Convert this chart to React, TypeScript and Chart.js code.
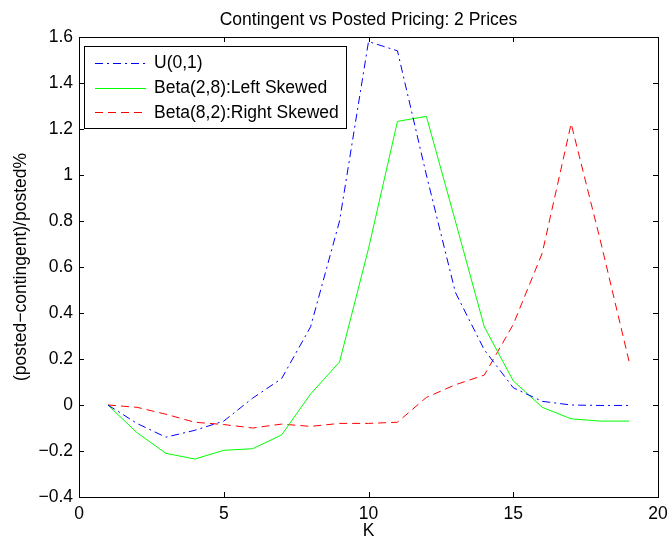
import React, { useEffect, useRef } from "react";
import { Chart, registerables } from "chart.js";

Chart.register(...registerables);

const TITLE = "Contingent vs Posted Pricing: 2 Prices";
const X_LABEL = "K";
const Y_LABEL = "(posted\u2212contingent)/posted%";

const K = [1, 2, 3, 4, 5, 6, 7, 8, 9, 10, 11, 12, 13, 14, 15, 16, 17, 18, 19];
const uniform = [0, -0.08, -0.14, -0.11, -0.07, 0.03, 0.115, 0.34, 0.8, 1.58, 1.54, 1.0, 0.49, 0.24, 0.075, 0.016, 0.0, -0.002, -0.002];
const betaLeft = [0, -0.12, -0.21, -0.235, -0.197, -0.19, -0.13, 0.048, 0.187, 0.68, 1.233, 1.255, 0.8, 0.34, 0.105, -0.01, -0.06, -0.07, -0.07];
const betaRight = [0, -0.01, -0.04, -0.075, -0.085, -0.1, -0.083, -0.093, -0.08, -0.08, -0.075, 0.033, 0.088, 0.13, 0.35, 0.66, 1.223, 0.72, 0.19];

const seriesLabels = ["U(0,1)", "Beta(2,8):Left Skewed", "Beta(8,2):Right Skewed"];

const FONT = "'Liberation Sans', Arial, Helvetica, sans-serif";
const FS = 17.5;

const fmt = (v: number) => {
  const s = String(Number(v.toFixed(2)));
  return s.replace("-", "\u2212");
};

const framePlugin = {
  id: "matlabFrame",
  afterDatasetsDraw(chart: any) {
    const { ctx, chartArea } = chart;
    const { left, right, top, bottom } = chartArea;
    const xs = chart.scales.x;
    const ys = chart.scales.y;
    const tl = 5;
    ctx.save();
    ctx.strokeStyle = "#000";
    ctx.lineWidth = 1;
    ctx.setLineDash([]);
    ctx.beginPath();
    xs.ticks.forEach((t: any) => {
      const p = Math.round(xs.getPixelForValue(t.value)) + 0.5;
      ctx.moveTo(p, bottom);
      ctx.lineTo(p, bottom - tl);
      ctx.moveTo(p, top);
      ctx.lineTo(p, top + tl);
    });
    ys.ticks.forEach((t: any) => {
      const p = Math.round(ys.getPixelForValue(t.value)) + 0.5;
      ctx.moveTo(left, p);
      ctx.lineTo(left + tl, p);
      ctx.moveTo(right, p);
      ctx.lineTo(right - tl, p);
    });
    ctx.stroke();
    ctx.strokeRect(Math.round(left) + 0.5, Math.round(top) + 0.5, Math.round(right - left), Math.round(bottom - top));

    // legend box
    const bx = left + 5;
    const by = top + 9;
    const bw = 262;
    const bh = 82;
    ctx.fillStyle = "#fff";
    ctx.fillRect(bx, by, bw, bh);
    ctx.strokeStyle = "#000";
    ctx.lineWidth = 1;
    ctx.strokeRect(Math.round(bx) + 0.5, Math.round(by) + 0.5, bw, bh);
    const rowY = [16.5, 41.5, 66];
    chart.data.datasets.forEach((ds: any, i: number) => {
      const y = by + rowY[i];
      ctx.save();
      ctx.strokeStyle = ds.borderColor;
      ctx.lineWidth = ds.borderWidth;
      ctx.setLineDash(ds.borderDash || []);
      ctx.beginPath();
      ctx.moveTo(bx + 11, Math.round(y) + 0.5);
      ctx.lineTo(bx + 62, Math.round(y) + 0.5);
      ctx.stroke();
      ctx.restore();
      ctx.fillStyle = "#000";
      ctx.font = `${FS}px ${FONT}`;
      ctx.textBaseline = "middle";
      ctx.textAlign = "left";
      ctx.fillText(ds.label, bx + 70, y + 1);
    });
    ctx.restore();
  },
};

export default function App() {
  const ref = useRef<HTMLCanvasElement | null>(null);

  useEffect(() => {
    document.body.style.margin = "0";
    const canvas = ref.current;
    if (!canvas) return;
    const mk = (arr: number[]) => K.map((k, i) => ({ x: k, y: arr[i] }));
    const chart = new Chart(canvas, {
      type: "line",
      data: {
        datasets: [
          {
            label: seriesLabels[0],
            data: mk(uniform),
            borderColor: "#0000ff",
            borderWidth: 1,
            borderDash: [8, 4, 2, 4],
            pointRadius: 0,
            fill: false,
            tension: 0,
          },
          {
            label: seriesLabels[1],
            data: mk(betaLeft),
            borderColor: "#00ff00",
            borderWidth: 1,
            pointRadius: 0,
            fill: false,
            tension: 0,
          },
          {
            label: seriesLabels[2],
            data: mk(betaRight),
            borderColor: "#ff0000",
            borderWidth: 1,
            borderDash: [8, 5],
            pointRadius: 0,
            fill: false,
            tension: 0,
          },
        ],
      },
      options: {
        responsive: false,
        animation: false,
        devicePixelRatio: 1,
        layout: { padding: { left: 0, right: 12, top: 0, bottom: 0 } },
        plugins: {
          legend: { display: false },
          tooltip: { enabled: false },
          title: {
            display: true,
            text: TITLE,
            fullSize: false,
            color: "#000",
            font: { family: FONT, size: FS, weight: "normal", lineHeight: 1.2 },
            padding: { top: 10, bottom: 6 },
          },
        },
        scales: {
          x: {
            type: "linear",
            min: 0,
            max: 20,
            ticks: {
              stepSize: 5,
              color: "#000",
              font: { family: FONT, size: FS },
              padding: 7,
              maxRotation: 0,
              callback: (v: any) => fmt(Number(v)),
            },
            grid: { display: false, drawTicks: false },
            border: { display: false },
            title: {
              display: true,
              text: X_LABEL,
              color: "#000",
              font: { family: FONT, size: FS, lineHeight: 1.2 },
              padding: { top: 0, bottom: 0 },
            },
            afterFit: (s: any) => {
              s.height = 45;
              s.paddingRight = 0;
              s.paddingLeft = 0;
            },
          },
          y: {
            type: "linear",
            min: -0.4,
            max: 1.6,
            ticks: {
              stepSize: 0.2,
              color: "#000",
              font: { family: FONT, size: FS },
              padding: 6,
              callback: (v: any) => fmt(Number(v)),
            },
            grid: { display: false, drawTicks: false },
            border: { display: false },
            title: {
              display: true,
              text: Y_LABEL,
              color: "#000",
              font: { family: FONT, size: FS, lineHeight: 1.2 },
              padding: { top: 10.5, bottom: 0 },
            },
            afterFit: (s: any) => {
              s.width = 79;
              s.paddingTop = 0;
              s.paddingBottom = 0;
            },
          },
        },
      },
      plugins: [framePlugin],
    } as any);
    return () => chart.destroy();
  }, []);

  return (
    <div style={{ width: 670, height: 542, background: "#fff" }}>
      <canvas ref={ref} width={670} height={542} style={{ display: "block" }} />
    </div>
  );
}
